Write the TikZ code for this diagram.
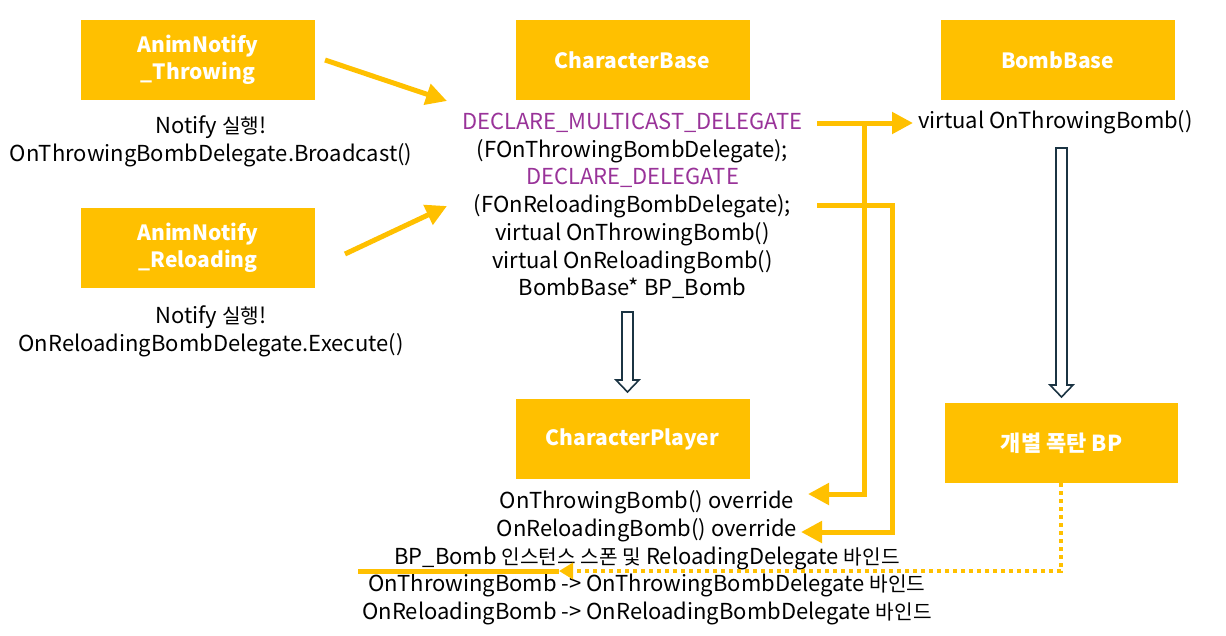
\documentclass[tikz,border=0pt]{standalone}
\usepackage{fontspec}
\setmainfont{Noto Sans CJK KR}
\newfontfamily\kr[Scale=0.92]{Noto Sans CJK KR}
\usetikzlibrary{arrows.meta}
\definecolor{orng}{HTML}{FFC000}
\definecolor{purp}{RGB}{153,51,153}
\definecolor{navy}{HTML}{1B3443}
\newcommand{\K}[1]{{\kr #1}}
\tikzset{
  box/.style={fill=orng, draw=none, minimum width=234pt, minimum height=80pt, text=white, font=\fontsize{21}{27}\selectfont\bfseries, align=center, inner sep=0pt},
  txt/.style={font=\fontsize{22}{27.7}\selectfont, align=center, inner sep=0pt, text=black},
  conn/.style={draw=orng, line width=5pt, -{Triangle[length=21pt,width=21pt]}},
  plain/.style={draw=orng, line width=5pt},
  dotconn/.style={draw=orng, line width=4pt, dash pattern=on 4pt off 4pt, -{Triangle[length=14pt,width=16pt]}},
  hollow/.style={draw=navy, line width=1.6pt, fill=white}
}
\begin{document}
\begin{tikzpicture}[x=1pt,y=-1pt]
\useasboundingbox (0,0) rectangle (1226,635);
% boxes
\node[box] (ant) at (198,60) {AnimNotify\\\_Throwing};
\node[box] (anr) at (198,248) {AnimNotify\\\_Reloading};
\node[box] (cb) at (632.5,60) {CharacterBase};
\node[box] (bb) at (1057.5,60) {BombBase};
\node[box] (cp) at (632.5,439) {CharacterPlayer};
\node[box, minimum width=233pt, font=\fontsize{22}{27}\selectfont\bfseries] (bp) at (1061.5,443) {개별 폭탄 BP};
% texts
\node[txt] (t1) at (211,141) {Notify \K{실행}!\\OnThrowingBombDelegate.Broadcast()};
\node[txt] (t2) at (211,331) {Notify \K{실행}!\\OnReloadingBombDelegate.Execute()};
\node[txt] (cbt) at (632.5,206) {\textcolor{purp}{DECLARE\_MULTICAST\_DELEGATE}\\(FOnThrowingBombDelegate);\\\textcolor{purp}{DECLARE\_DELEGATE}\\(FOnReloadingBombDelegate);\\virtual OnThrowingBomb()\\virtual OnReloadingBomb()\\BombBase* BP\_Bomb};
\node[txt, anchor=west] (bbt) at (918,122) {virtual OnThrowingBomb()};
\node[txt] (cpt) at (647,558) {OnThrowingBomb() override\\OnReloadingBomb() override\\BP\_Bomb \K{인스턴스 스폰 및} ReloadingDelegate \K{바인드}\\OnThrowingBomb -> OnThrowingBombDelegate \K{바인드}\\OnReloadingBomb -> OnReloadingBombDelegate \K{바인드}};
% coordinates
\coordinate (a1s) at (325,60);
\coordinate (a1e) at (447,101);
\coordinate (a2s) at (345,254);
\coordinate (a2e) at (447,206);
\coordinate (h1s) at (817,123);
\coordinate (h1e) at (913,123);
\coordinate (j1) at (864,123);
\coordinate (j1b) at (864,494);
\coordinate (e1) at (808,494);
\coordinate (h2s) at (817,205);
\coordinate (j2) at (892,205);
\coordinate (j2b) at (892,532);
\coordinate (e2) at (801,532);
\coordinate (d1) at (1061,483);
\coordinate (d2) at (1061,571);
\coordinate (d3) at (559,571);
\coordinate (s1) at (358,571);
% connectors
\draw[conn] (a1s) -- (a1e);
\draw[conn] (a2s) -- (a2e);
\draw[conn] (h1s) -- (h1e);
\draw[conn] (j1) -- (j1b) -- (e1);
\draw[conn] (h2s) -- (j2) -- (j2b) -- (e2);
\draw[plain] (s1) -- (d3);
\draw[dotconn] (d1) -- (d2) -- (d3);
% hollow arrows
\draw[hollow] (622,312) -- (633,312) -- (633,380) -- (639,380) -- (627.5,392) -- (616,380) -- (622,380) -- cycle;
\draw[hollow] (1056,148) -- (1067,148) -- (1067,385) -- (1073,385) -- (1061.5,397) -- (1050,385) -- (1056,385) -- cycle;
\end{tikzpicture}
\end{document}
